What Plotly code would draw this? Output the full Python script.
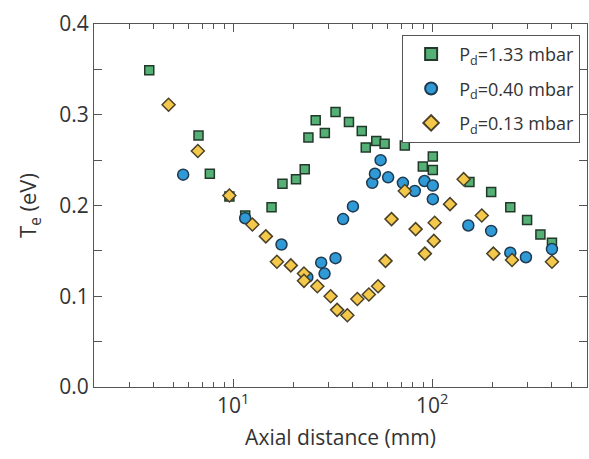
import plotly.graph_objects as go
import numpy as np

# 1.33 mbar (squares)
x_133 = [3.79, 6.70, 7.64, 9.58, 11.5, 15.6, 17.7, 20.7, 22.9, 23.9, 26.0, 28.9, 32.7, 38.2,
         44.3, 46.4, 52.4, 57.7, 72.9, 89.8, 100.8, 100.8, 154, 198, 247, 300, 350, 400]
y_133 = [0.349, 0.277, 0.235, 0.210, 0.189, 0.198, 0.224, 0.229, 0.240, 0.275, 0.294, 0.280, 0.303, 0.292,
         0.282, 0.264, 0.271, 0.268, 0.266, 0.243, 0.254, 0.239, 0.226, 0.215, 0.198, 0.184, 0.168, 0.159]

# 0.40 mbar (circles)
x_040 = [5.61, 11.5, 17.5, 23.6, 27.7, 28.8, 32.7, 35.7, 40.0, 50.0, 51.6, 55.1, 60.1, 71.3,
         81.8, 91.5, 100.8, 100.8, 152, 198, 247, 296, 400]
y_040 = [0.234, 0.186, 0.157, 0.121, 0.137, 0.125, 0.142, 0.185, 0.199, 0.225, 0.235, 0.250, 0.231, 0.225,
         0.216, 0.227, 0.222, 0.207, 0.178, 0.172, 0.148, 0.143, 0.152]

# 0.13 mbar (diamonds)
x_013 = [4.74, 6.65, 9.58, 12.5, 14.6, 16.6, 19.5, 22.7, 22.7, 26.5, 30.9, 33.3, 37.5, 42.1,
         48.1, 53.5, 58.3, 62.5, 72.9, 82.6, 91.9, 102, 103, 123, 144, 177.6, 203, 252, 400]
y_013 = [0.311, 0.260, 0.211, 0.179, 0.166, 0.138, 0.134, 0.125, 0.117, 0.111, 0.100, 0.085, 0.079, 0.097,
         0.102, 0.111, 0.139, 0.185, 0.216, 0.174, 0.147, 0.161, 0.181, 0.2015, 0.229, 0.189, 0.147, 0.140, 0.138]

x_ticks = [10, 100]
x_ticktext = ["10<sup>1</sup>", "10<sup>2</sup>"]
x_minor = [3, 4, 5, 6, 7, 8, 9, 20, 30, 40, 50, 60, 70, 80, 90, 200, 300, 400, 500]
y_ticks = [0.0, 0.1, 0.2, 0.3, 0.4]

FONT = "Open Sans"
AX = "#555555"

fig = go.Figure()
fig.add_trace(go.Scatter(x=x_133, y=y_133, mode="markers", name="P<sub>d</sub>=1.33 mbar", legendgroup="a",
                         marker=dict(symbol="square", size=9, color="#55b075",
                                     line=dict(color="#22382a", width=1.5))))
fig.add_trace(go.Scatter(x=x_040, y=y_040, mode="markers", name="P<sub>d</sub>=0.40 mbar", legendgroup="b",
                         marker=dict(symbol="circle", size=11, color="#2f9ad6",
                                     line=dict(color="#1f3a50", width=1.5))))
fig.add_trace(go.Scatter(x=x_013, y=y_013, mode="markers", name="P<sub>d</sub>=0.13 mbar", legendgroup="c",
                         marker=dict(symbol="diamond", size=10, color="#f4c84a",
                                     line=dict(color="#4a4128", width=1.5))))

fig.update_layout(
    width=589, height=459,
    margin=dict(l=94, r=2, t=24, b=72),
    paper_bgcolor="white", plot_bgcolor="white",
    font=dict(family=FONT, color="#333333"),
    showlegend=True,
    legend=dict(x=0.625, y=0.97, xanchor="left", yanchor="top",
                bordercolor="#555555", borderwidth=1, bgcolor="white",
                font=dict(family=FONT, size=18, color="#333333"),
                itemsizing="constant", itemwidth=46, tracegroupgap=8,
                traceorder="grouped"),
)
fig.update_xaxes(
    type="log", range=[np.log10(2), np.log10(600)],
    tickvals=x_ticks, ticktext=x_ticktext,
    ticks="inside", ticklen=8, tickcolor=AX, tickwidth=1,
    minor=dict(tickvals=x_minor, ticks="inside", ticklen=5, tickcolor=AX, tickwidth=1),
    showline=True, linecolor=AX, linewidth=1, mirror="ticks",
    showgrid=False, zeroline=False,
    tickfont=dict(size=21, family=FONT, color="#333333"),
    title=dict(text="Axial distance (mm)", font=dict(size=21, family=FONT, color="#333333"), standoff=12),
)
fig.update_yaxes(
    range=[0, 0.4], tickvals=y_ticks, ticktext=[f"{v:.1f}" for v in y_ticks],
    ticks="inside", ticklen=8, tickcolor=AX, tickwidth=1,
    minor=dict(dtick=0.05, ticks="inside", ticklen=8, tickcolor=AX, tickwidth=1),
    showline=True, linecolor=AX, linewidth=1, mirror="ticks",
    showgrid=False, zeroline=False,
    tickfont=dict(size=21, family=FONT, color="#333333"),
    title=dict(text="T<sub>e</sub> (eV)", font=dict(size=22, family=FONT, color="#333333"), standoff=16),
)

fig.write_html("out.html")
